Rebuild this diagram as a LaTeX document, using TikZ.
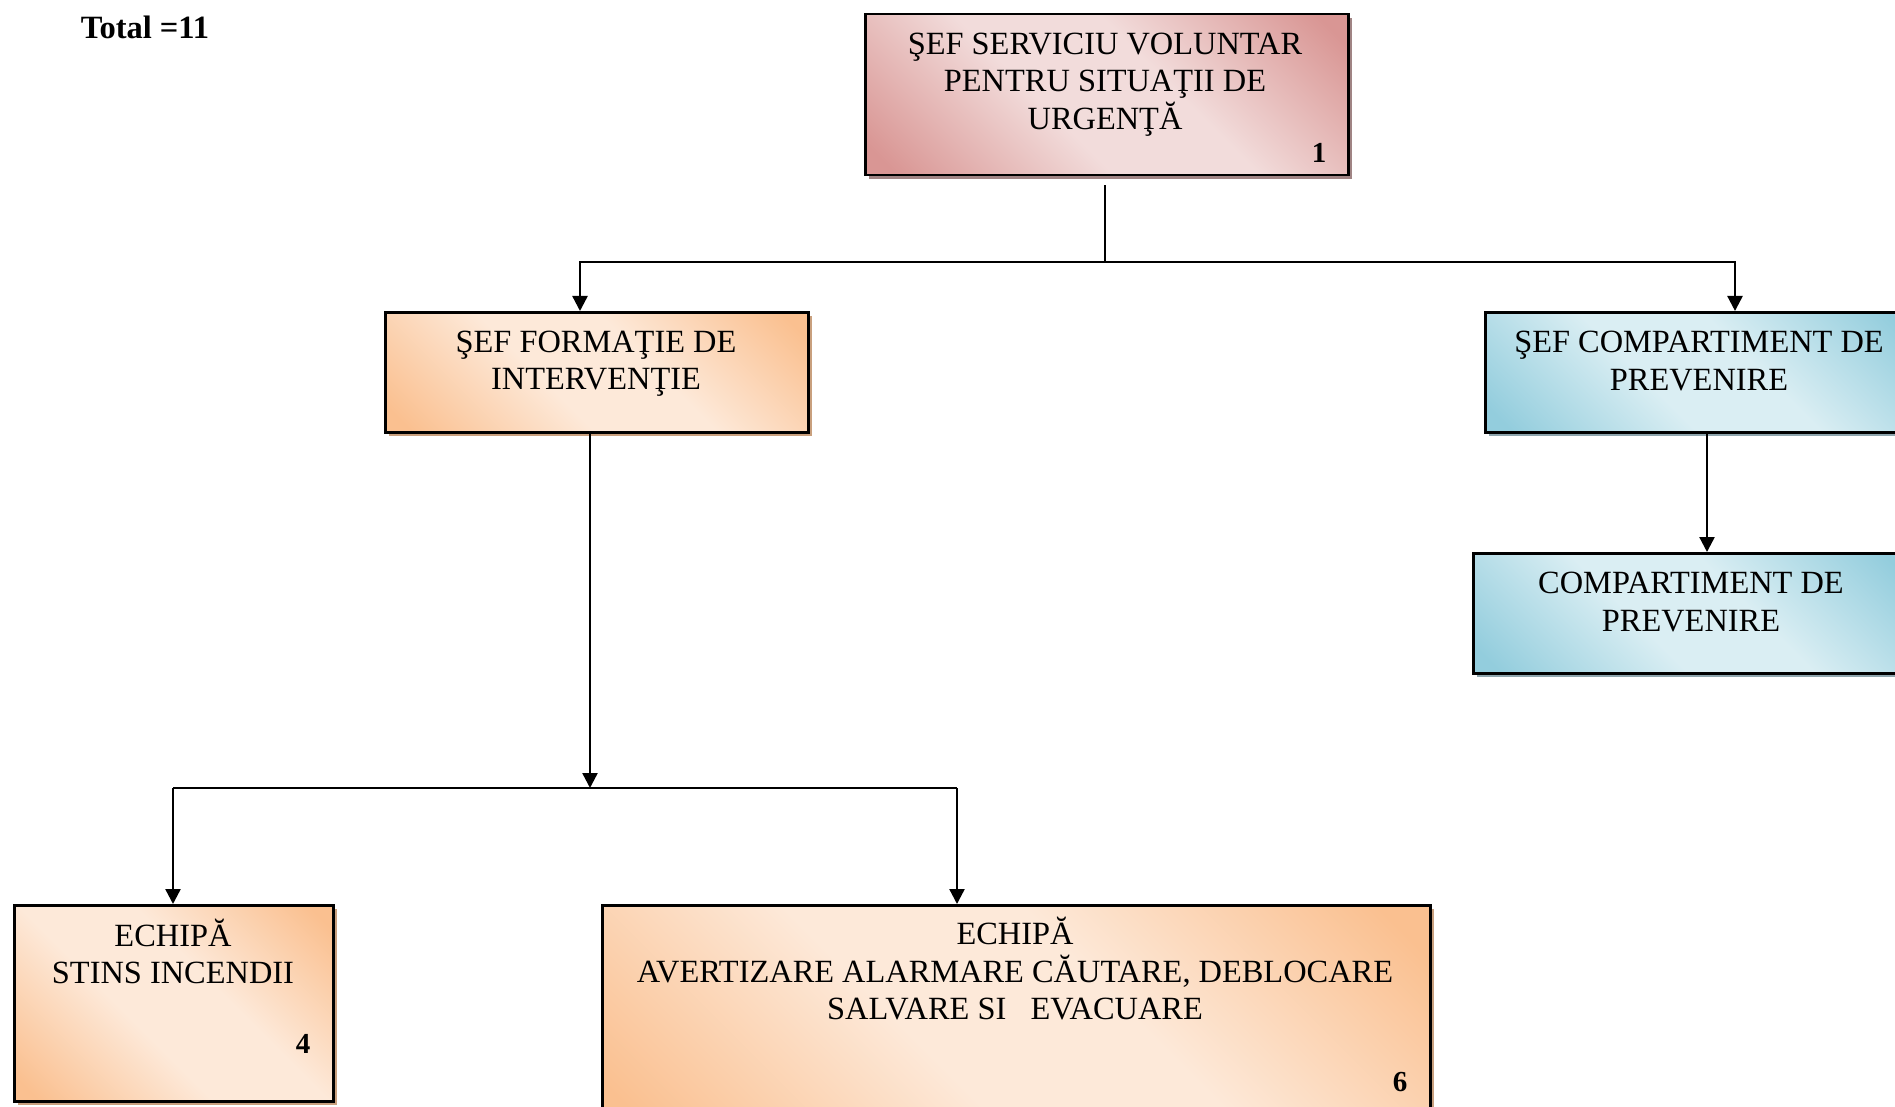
\documentclass[tikz,border=0pt]{standalone}
\usepackage{fontspec}
\setmainfont{Liberation Serif}
\usetikzlibrary{arrows.meta,shadows}
\definecolor{pinkD}{HTML}{D99694}
\definecolor{pinkL}{HTML}{F2DCDB}
\definecolor{orD}{HTML}{FAC090}
\definecolor{orL}{HTML}{FDE9D9}
\definecolor{blD}{HTML}{93CDDD}
\definecolor{blL}{HTML}{DAEEF3}
\definecolor{pinkS}{HTML}{A08484}
\definecolor{orS}{HTML}{C9A07E}
\definecolor{blS}{HTML}{8EA5AD}
\pgfdeclarehorizontalshading{pinkdiag}{100bp}{color(0bp)=(pinkD); color(18bp)=(pinkD); color(42bp)=(pinkL); color(58bp)=(pinkL); color(82bp)=(pinkD); color(100bp)=(pinkD)}
\pgfdeclarehorizontalshading{ordiag}{100bp}{color(0bp)=(orD); color(18bp)=(orD); color(42bp)=(orL); color(58bp)=(orL); color(82bp)=(orD); color(100bp)=(orD)}
\pgfdeclarehorizontalshading{bldiag}{100bp}{color(0bp)=(blD); color(18bp)=(blD); color(42bp)=(blL); color(58bp)=(blL); color(82bp)=(blD); color(100bp)=(blD)}
\tikzset{
  boxbase/.style={draw=black, line width=2.5pt, rectangle, inner sep=0pt, anchor=north west, shade, shading angle=45},
  pinkbox/.style={boxbase, shading=pinkdiag, general shadow={fill=pinkS, shadow xshift=4pt, shadow yshift=-4pt}},
  orbox/.style={boxbase, shading=ordiag, general shadow={fill=orS, shadow xshift=4pt, shadow yshift=-4pt}},
  blbox/.style={boxbase, shading=bldiag, general shadow={fill=blS, shadow xshift=4pt, shadow yshift=-4pt}},
  lbl/.style={font=\fontsize{32.4}{37.5}\selectfont, align=center, inner sep=0pt},
  num/.style={font=\fontsize{29}{34}\selectfont\bfseries, inner sep=0pt},
  conn/.style={line width=2.4pt, draw=black},
  arr/.style={conn, -{Triangle[length=15pt,width=15pt]}}
}
\begin{document}
\begin{tikzpicture}[x=1pt,y=-1pt]
\useasboundingbox (0,0) rectangle (1895,1107);
\clip (0,0) rectangle (1895,1107);
\node[num, font=\fontsize{32.5}{38}\selectfont\bfseries] (total) at (145,27) {Total =11};
% boxes
\node[pinkbox, minimum width=483pt, minimum height=161pt] (top) at (864,13) {};
\node[orbox, minimum width=423pt, minimum height=120pt] (form) at (384,311) {};
\node[blbox, minimum width=430pt, minimum height=120pt] (prev1) at (1484,311) {};
\node[blbox, minimum width=438pt, minimum height=120pt] (prev2) at (1472,552) {};
\node[orbox, minimum width=319pt, minimum height=196pt] (ech1) at (13,904) {};
\node[orbox, minimum width=828pt, minimum height=230pt] (ech2) at (601,904) {};
% labels
\node[lbl] (ttop) at (1105,84.6) {ŞEF SERVICIU VOLUNTAR\\PENTRU SITUAŢII DE\\URGENŢĂ};
\node[num] (ntop) at (1319,153) {1};
\node[lbl] (tform) at (596,363.6) {ŞEF FORMAŢIE DE\\INTERVENŢIE};
\node[lbl] (tprev1) at (1699,361.2) {ŞEF COMPARTIMENT DE\\PREVENIRE};
\node[lbl] (tprev2) at (1691,602.2) {COMPARTIMENT DE\\PREVENIRE};
\node[lbl] (tech1) at (173,951.5) {ECHIPĂ\\STINS INCENDII};
\node[num] (nech1) at (303,1044) {4};
\node[lbl] (tech2) at (1015,969) {ECHIPĂ\\AVERTIZARE ALARMARE CĂUTARE, DEBLOCARE\\SALVARE SI\ \ \ EVACUARE};
\node[num] (nech2) at (1400,1082) {6};
% connectors
\coordinate (j1) at (1105,262);
\coordinate (j2) at (590,788);
\coordinate (jl) at (173,788);
\coordinate (jr) at (957,788);
\coordinate (px) at (1707,0);
\draw[conn] ([yshift=-9pt]j1 |- top.south) -- (j1);
\draw[arr] (j1) -| (580,311);
\draw[arr] (j1) -| (1735,311);
\draw[arr] (j2 |- form.south) -- (j2);
\draw[conn] (jl) -- (jr);
\draw[arr] (jl) -- (jl |- ech1.north);
\draw[arr] (jr) -- (jr |- ech2.north);
\draw[arr] (px |- prev1.south) -- (px |- prev2.north);
\end{tikzpicture}
\end{document}
